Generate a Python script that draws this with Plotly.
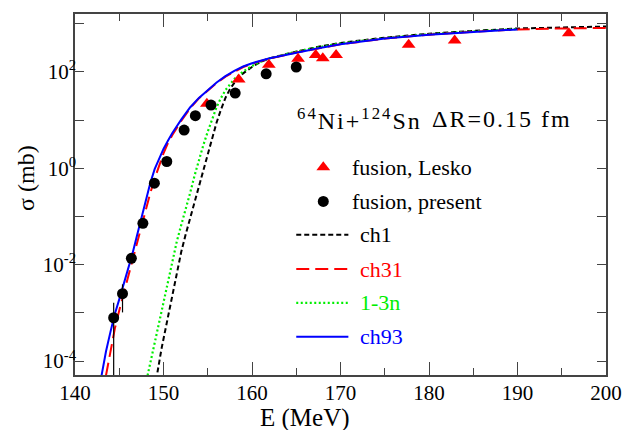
import plotly.graph_objects as go

# ---------------- data (E in MeV, sigma in mb) ----------------
E_ch93 = [143.0, 143.5, 144.0, 144.5, 145.0, 145.5, 146.0, 146.5, 147.0, 147.5, 148.0, 148.5,
          149.0, 149.5, 150.0, 150.5, 151.0, 152.0, 153.0, 154.0, 155.0, 156.0, 157.0, 158.0, 159.0, 160.0,
          162.0, 165.0, 167.5, 170.0, 175.0, 180.0, 185.0, 190.0]
S_ch93 = [5.0e-5, 1.58e-4, 3.98e-4, 9.5e-4, 1.9e-3, 3.8e-3, 7.9e-3, 1.7e-2, 3.98e-2, 9.3e-2, 0.219, 0.49,
          0.955, 1.62, 2.51, 3.72, 5.37, 10.2, 18.2, 28.8, 42.7, 60.3, 81.3, 105.0, 129.0, 151.0,
          191.0, 251.0, 309.0, 372.0, 490.0, 589.0, 676.0, 759.0]

E_ch31 = [143.5, 144.0, 144.5, 145.0, 145.5, 146.0, 146.5, 147.0, 147.5, 148.0, 148.5, 149.0,
          149.5, 150.0, 150.5, 151.0, 152.0, 153.0, 154.0, 155.0, 156.0, 157.0, 158.0, 159.0, 160.0,
          162.0, 165.0, 167.5, 170.0, 175.0, 180.0, 185.0, 190.0, 195.0, 200.0]
S_ch31 = [5.0e-5, 1.66e-4, 4.7e-4, 1.12e-3, 2.5e-3, 5.8e-3, 1.32e-2, 2.95e-2, 6.6e-2, 0.145, 0.302, 0.603,
          1.15, 2.04, 3.31, 4.90, 9.55, 17.4, 28.2, 41.7, 58.9, 79.4, 102.0, 126.0, 148.0,
          189.0, 251.0, 309.0, 372.0, 490.0, 589.0, 676.0, 759.0, 794.0, 813.0]

E_13n = [148.2, 148.5, 149.0, 149.5, 150.0, 150.5, 151.0, 151.5, 152.0, 152.5, 153.0, 153.5,
         154.0, 154.5, 155.0, 155.5, 156.0, 156.5, 157.0, 158.0, 159.0, 160.0, 161.0, 162.0,
         163.5, 165.0, 167.5, 170.0, 175.0, 180.0, 185.0, 190.0]
S_13n = [5.0e-5, 8.9e-5, 2.24e-4, 5.6e-4, 1.58e-3, 4.4e-3, 1.17e-2, 3.0e-2, 6.6e-2, 0.138, 0.302, 0.692,
         1.48, 3.02, 5.75, 10.7, 18.6, 28.8, 41.7, 70.8, 102.0, 132.0, 162.0, 191.0,
         224.0, 263.0, 324.0, 389.0, 501.0, 603.0, 692.0, 776.0]

E_ch1 = [149.1, 149.3, 149.8, 150.5, 151.0, 151.5, 152.0, 152.5, 153.0, 153.5, 154.0, 154.5,
         155.0, 155.5, 156.0, 156.5, 157.0, 157.5, 158.0, 159.0, 160.0, 161.0, 162.0, 163.5,
         165.0, 167.5, 170.0, 175.0, 180.0, 185.0, 190.0, 195.0, 200.0]
S_ch1 = [4.0e-5, 5.6e-5, 1.9e-4, 8.3e-4, 2.4e-3, 6.8e-3, 1.82e-2, 4.2e-2, 9.1e-2, 0.20, 0.436, 1.0,
         2.14, 4.57, 8.91, 16.6, 28.8, 43.7, 58.9, 93.0, 126.0, 162.0, 191.0, 224.0,
         263.0, 331.0, 398.0, 513.0, 617.0, 708.0, 794.0, 832.0, 871.0]

E_present = [144.37, 145.37, 146.37, 147.67, 148.97, 150.37, 152.33, 153.6, 155.37, 158.1, 161.6, 165.0]
S_present = [7.9e-4, 2.5e-3, 1.35e-2, 7.2e-2, 0.49, 1.38, 6.2, 12.3, 20.4, 36.3, 91.0, 126.0]
ERR_plus = [8.3e-4, 1.4e-3, 0, 0, 0, 0, 0, 0, 0, 0, 0, 0]
ERR_minus = [7.89e-4, 1.48e-3, 0, 0, 0, 0, 0, 0, 0, 0, 0, 0]

E_lesko = [154.9, 158.5, 161.9, 165.2, 167.2, 168.0, 169.5, 177.7, 182.9, 195.8]
S_lesko = [21.9, 69.0, 141.0, 186.0, 224.0, 191.0, 224.0, 363.0, 447.0, 631.0]

x_ticks = [140, 150, 160, 170, 180, 190, 200]
y_tickvals = [1e-4, 1e-2, 1e0, 1e2]
y_ticktext = ["10<sup>-4</sup>", "10<sup>-2</sup>", "10<sup>0</sup>", "10<sup>2</sup>"]

FONT = "Liberation Serif, Times New Roman, Times, serif"
RED = "#ff0000"
GREEN = "#00ee00"
BLUE = "#0000ff"

fig = go.Figure()

fig.add_trace(go.Scatter(x=E_ch1, y=S_ch1, mode="lines", line=dict(color="black", width=2, dash="5px,3px"),
                         showlegend=False))
fig.add_trace(go.Scatter(x=E_13n, y=S_13n, mode="lines", line=dict(color=GREEN, width=2.2, dash="2px,2.5px"),
                         showlegend=False))
fig.add_trace(go.Scatter(x=E_ch31, y=S_ch31, mode="lines", line=dict(color=RED, width=2, dash="13px,6px"),
                         showlegend=False))
fig.add_trace(go.Scatter(x=E_ch93, y=S_ch93, mode="lines", line=dict(color=BLUE, width=2),
                         showlegend=False))
fig.add_trace(go.Scatter(x=E_lesko, y=S_lesko, mode="markers",
                         marker=dict(symbol="triangle-up", size=12, color=RED), showlegend=False))
fig.add_trace(go.Scatter(x=E_present, y=S_present, mode="markers",
                         marker=dict(symbol="circle", size=11, color="black"),
                         error_y=dict(type="data", array=ERR_plus, arrayminus=ERR_minus, symmetric=False,
                                      color="black", thickness=1.2, width=0),
                         showlegend=False))

# ---------------- hand-made legend on a pixel overlay ----------------
leg_marker_x = [327.5, 327.5]
leg_marker_y = [166.0, 200.5]
fig.add_trace(go.Scatter(x=[leg_marker_x[0]], y=[leg_marker_y[0]], xaxis="x2", yaxis="y2", mode="markers",
                         marker=dict(symbol="triangle-up", size=12, color=RED), showlegend=False))
fig.add_trace(go.Scatter(x=[leg_marker_x[1]], y=[leg_marker_y[1]], xaxis="x2", yaxis="y2", mode="markers",
                         marker=dict(symbol="circle", size=11, color="black"), showlegend=False))
leg_lines = [(234.0, "black", "5px,3px", 2), (268.5, RED, "13px,6px", 2), (302.5, GREEN, "2px,2.5px", 2.2),
             (336.5, BLUE, "solid", 2)]
for yy, col, dsh, w in leg_lines:
    fig.add_trace(go.Scatter(x=[300, 353], y=[yy, yy], xaxis="x2", yaxis="y2", mode="lines",
                             line=dict(color=col, width=w, dash=dsh), showlegend=False))

leg_texts = [(355, 166.0, "fusion, Lesko", "black"), (355, 200.5, "fusion, present", "black"),
             (363, 234.0, "ch1", "black"), (363, 268.5, "ch31", RED), (363, 302.5, "1-3n", GREEN),
             (363, 336.5, "ch93", BLUE)]
annotations = []
for xx, yy, txt, col in leg_texts:
    annotations.append(dict(x=xx, y=yy, xref="x2", yref="y2", text=txt, showarrow=False, xanchor="left",
                            yanchor="middle", font=dict(family=FONT, size=22, color=col)))

annotations.append(dict(x=299, y=118, xref="x2", yref="y2",
                        text='<span style="letter-spacing:2px"><sup>64</sup>Ni+<sup>124</sup>Sn</span>',
                        showarrow=False, xanchor="left", yanchor="middle",
                        font=dict(family=FONT, size=24, color="black")))
annotations.append(dict(x=436, y=118, xref="x2", yref="y2",
                        text='<span style="letter-spacing:2px">ΔR=0.15 fm</span>',
                        showarrow=False, xanchor="left", yanchor="middle",
                        font=dict(family=FONT, size=24, color="black")))
# axis titles placed in paper coordinates (outside the plotting area)
annotations.append(dict(x=(309 - 75) / 540, y=(375 - 418) / 363, xref="paper", yref="paper", text="E (MeV)",
                        showarrow=False, xanchor="center", yanchor="middle",
                        font=dict(family=FONT, size=25, color="black")))
annotations.append(dict(x=(25 - 75) / 540, y=(375 - 177) / 363, xref="paper", yref="paper", text="σ (mb)",
                        showarrow=False, textangle=-90, xanchor="center", yanchor="middle",
                        font=dict(family=FONT, size=24, color="black")))

AXC = "#444444"
fig.update_layout(
    width=634, height=430,
    margin=dict(l=75, r=19, t=12, b=55),
    paper_bgcolor="white", plot_bgcolor="white",
    showlegend=False,
    font=dict(family=FONT, size=20, color="black"),
    xaxis=dict(range=[140, 200], tickvals=x_ticks, ticks="inside", ticklen=13, tickwidth=1.2, tickcolor=AXC,
               minor=dict(dtick=5, ticks="inside", ticklen=7, tickwidth=1.2, tickcolor=AXC),
               showline=True, linecolor=AXC, linewidth=1.5, mirror="allticks", showgrid=False, zeroline=False,
               ticklabelstandoff=-2,
               tickfont=dict(family=FONT, size=21, color="black")),
    yaxis=dict(type="log", range=[-4.29, 3.2], tickvals=y_tickvals, ticktext=y_ticktext, ticks="inside",
               ticklen=9, tickwidth=1.2, tickcolor=AXC,
               minor=dict(tickvals=[1e-3, 1e-1, 1e1, 1e3], ticks="inside", ticklen=9, tickwidth=1.2, tickcolor=AXC),
               showline=True, linecolor=AXC, linewidth=1.5, mirror="allticks", showgrid=False, zeroline=False,
               ticklabelstandoff=-7,
               tickfont=dict(family=FONT, size=21, color="black")),
    xaxis2=dict(overlaying="x", range=[75, 615], visible=False, fixedrange=True),
    yaxis2=dict(overlaying="y", range=[375, 12], visible=False, fixedrange=True),
    annotations=annotations,
)

fig.write_html("out.html")
